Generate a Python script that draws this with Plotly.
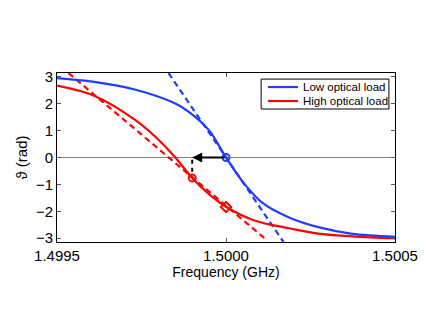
import plotly.graph_objects as go

# Low optical load (solid)
low_f = [1.49950, 1.49961, 1.49973, 1.49985, 1.49989, 1.49995, 1.50000,
         1.50005, 1.50011, 1.50019, 1.50027, 1.50037, 1.50050]
low_theta = [2.95, 2.81, 2.53, 2.01, 1.70, 1.01, 0.0,
             -0.91, -1.71, -2.25, -2.58, -2.83, -2.95]

# High optical load (solid)
high_f = [1.49950, 1.499613, 1.499732, 1.499791, 1.499850, 1.499900, 1.499953,
          1.500001, 1.500082, 1.500190, 1.500273, 1.500374, 1.50050]
high_theta = [2.67, 2.28, 1.39, 0.77, 0.0, -0.76, -1.40,
              -1.84, -2.33, -2.64, -2.83, -2.93, -3.01]

# Tangent (dashed) lines
low_tan_f = [1.49983, 1.50017]
low_tan_theta = [3.14, -3.14]
high_tan_f = [1.499534, 1.500114]
high_tan_theta = [3.14, -3.0]

# Markers
low_mark_f = [1.50000]
low_mark_theta = [0.0]
high_circ_f = [1.49990]
high_circ_theta = [-0.76]
high_diam_f = [1.50000]
high_diam_theta = [-1.84]

# Black guide (vertical dashed)
guide_f = [1.49990, 1.49990]
guide_theta = [-0.08, -0.62]

x_ticks = [1.4995, 1.5000, 1.5005]
x_ticklabels = ["1.4995", "1.5000", "1.5005"]
y_ticks = [-3, -2, -1, 0, 1, 2, 3]
y_ticklabels = ["\u22123", "\u22122", "\u22121", "0", "1", "2", "3"]
legend_names = ["Low optical load", "High optical load"]

BLUE = "#1f3dff"
RED = "#ff0000"

fig = go.Figure()
fig.add_trace(go.Scatter(x=low_tan_f, y=low_tan_theta, mode="lines",
                         line=dict(color=BLUE, width=2.2, dash="6px,4px"),
                         showlegend=False))
fig.add_trace(go.Scatter(x=high_tan_f, y=high_tan_theta, mode="lines",
                         line=dict(color=RED, width=2.2, dash="6px,4px"),
                         showlegend=False))
fig.add_trace(go.Scatter(x=low_f, y=low_theta, mode="lines",
                         line=dict(color=BLUE, width=2.2, shape="spline", smoothing=1.0),
                         name=legend_names[0], showlegend=False))
fig.add_trace(go.Scatter(x=high_f, y=high_theta, mode="lines",
                         line=dict(color=RED, width=2.2, shape="spline", smoothing=1.0),
                         name=legend_names[1], showlegend=False))
fig.add_trace(go.Scatter(x=guide_f, y=guide_theta, mode="lines",
                         line=dict(color="black", width=2, dash="4px,4px"),
                         showlegend=False))
fig.add_trace(go.Scatter(x=low_mark_f, y=low_mark_theta, mode="markers",
                         marker=dict(symbol="circle-open", size=7, color=BLUE,
                                     line=dict(width=2)),
                         showlegend=False))
fig.add_trace(go.Scatter(x=high_circ_f, y=high_circ_theta, mode="markers",
                         marker=dict(symbol="circle-open", size=7, color=RED,
                                     line=dict(width=2)),
                         showlegend=False))
fig.add_trace(go.Scatter(x=high_diam_f, y=high_diam_theta, mode="markers",
                         marker=dict(symbol="diamond-open", size=8, color=RED,
                                     line=dict(width=2)),
                         showlegend=False))

fig.add_annotation(x=1.49990, y=0, ax=1.50000, ay=0, xref="x", yref="y",
                   axref="x", ayref="y", text="", showarrow=True,
                   arrowhead=2, arrowsize=1, arrowwidth=2, arrowcolor="black")

# Manual legend (MATLAB style, compact)
fig.add_shape(type="rect", xref="paper", yref="paper", x0=0.604, x1=0.982,
              y0=0.787, y1=0.964, line=dict(color="black", width=1),
              fillcolor="white", layer="above")
for name, color, yy in [(legend_names[0], BLUE, 0.917), (legend_names[1], RED, 0.834)]:
    fig.add_shape(type="line", xref="paper", yref="paper", x0=0.624, x1=0.713,
                  y0=yy, y1=yy, line=dict(color=color, width=2.2), layer="above")
    fig.add_annotation(xref="paper", yref="paper", x=0.722, y=yy, text=name,
                       showarrow=False, xanchor="left", yanchor="middle",
                       font=dict(size=11.5, color="black"))

axis_common = dict(showline=True, linecolor="black", linewidth=1, mirror="ticks",
                   ticks="inside", ticklen=4, tickcolor="#555", showgrid=False,
                   automargin=False, tickfont=dict(size=15, color="black"))

fig.update_layout(
    width=436, height=328,
    margin=dict(l=49, r=49, t=65, b=94),
    paper_bgcolor="white", plot_bgcolor="white",
    font=dict(family="Liberation Sans, Arial, sans-serif", color="black"),
    xaxis=dict(range=[1.4995, 1.5005], tickvals=x_ticks, ticktext=x_ticklabels,
               title=dict(text="Frequency (GHz)", font=dict(size=14), standoff=2),
               zeroline=False, **axis_common),
    yaxis=dict(range=[-3.1416, 3.1416], tickvals=y_ticks, ticktext=y_ticklabels,
               title=dict(text="\u03d1 (rad)", font=dict(size=15), standoff=4),
               zeroline=True, zerolinecolor="#808080", zerolinewidth=1,
               **axis_common),
    showlegend=False,
)

fig.write_html("out.html")
